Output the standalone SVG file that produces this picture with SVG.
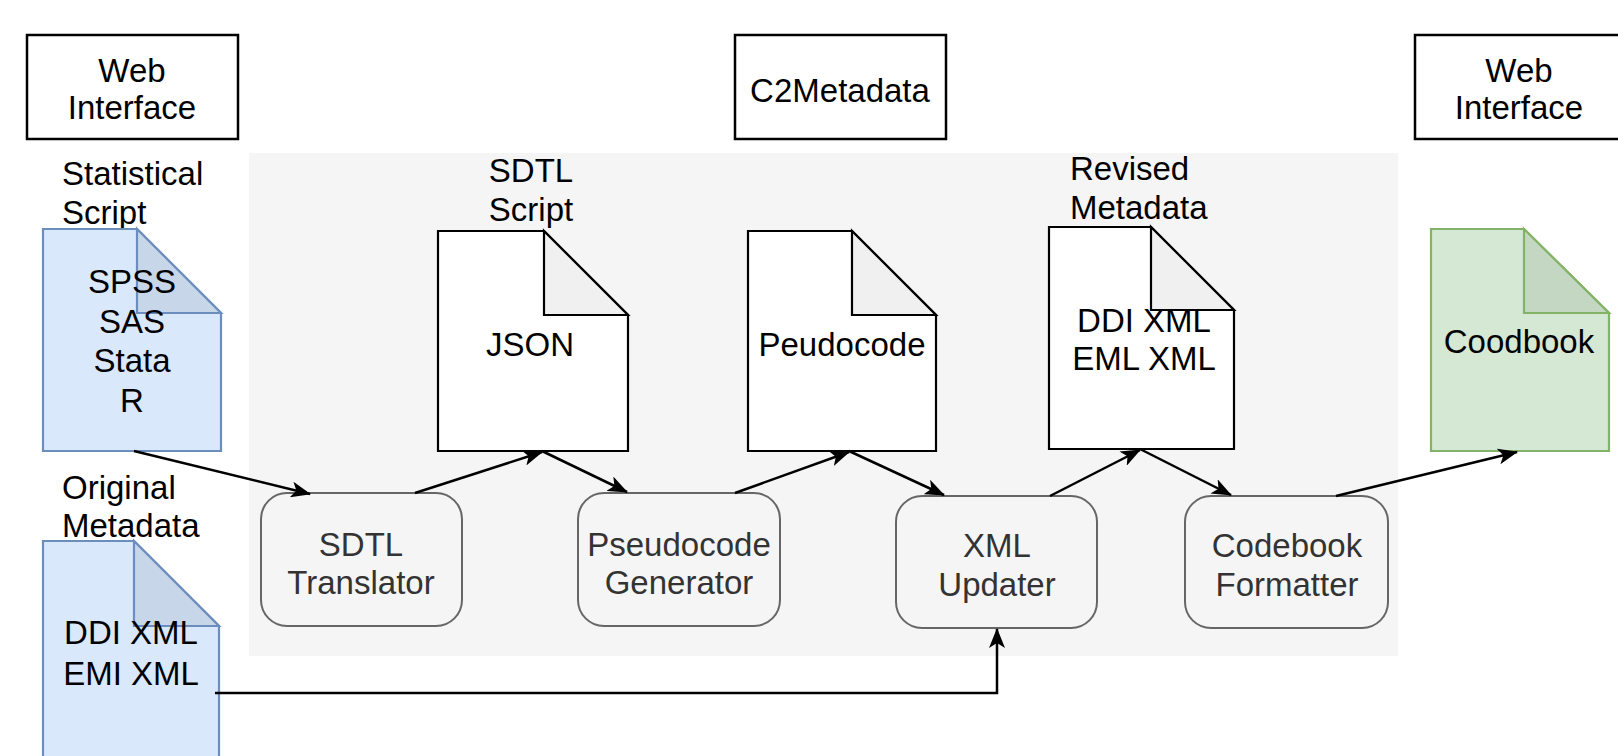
<svg xmlns="http://www.w3.org/2000/svg" width="1618" height="756" viewBox="0 0 1618 756">
<style>
text{font-family:"Liberation Sans",Arial,sans-serif;font-size:33px;fill:#000}
.c{text-anchor:middle}
.g{fill:#333}
.box{fill:#fff;stroke:#000;stroke-width:2.5}
.proc{fill:#f5f5f5;stroke:#666;stroke-width:2}
.doc{fill:#fff;stroke:#000;stroke-width:2.2}
.fold{fill:#f0f0f0;stroke:#000;stroke-width:2.2}
.bdoc{fill:#dae8fc;stroke:#6c8ebf;stroke-width:2.2}
.bfold{fill:#c8d6ea;stroke:#6c8ebf;stroke-width:2.2}
.gdoc{fill:#d5e8d4;stroke:#82b366;stroke-width:2.2}
.gfold{fill:#c3d7c2;stroke:#82b366;stroke-width:2.2}
.edge{fill:none;stroke:#000;stroke-width:2.5}
</style>
<defs>
<marker id="arr" viewBox="0 0 10 10" refX="9" refY="5" markerWidth="7" markerHeight="7" orient="auto" markerUnits="userSpaceOnUse">
<path d="M0,0 L10,5 L0,10 L2.5,5 Z" fill="#000"/>
</marker>
<marker id="arrow" viewBox="0 0 20 16" refX="19" refY="8" markerWidth="20" markerHeight="16" orient="auto" markerUnits="userSpaceOnUse">
<path d="M0,0 L20,8 L0,16 L5,8 Z" fill="#000"/>
</marker>
</defs>
<rect x="0" y="0" width="1618" height="756" fill="#fff"/>
<rect id="container" x="249" y="153" width="1149" height="503" fill="#f5f5f5"/>

<g id="web-left">
<rect class="box" x="27" y="35" width="211" height="104"/>
<text class="c" x="132" y="82">Web</text>
<text class="c" x="132" y="119">Interface</text>
</g>
<g id="c2metadata">
<rect class="box" x="735" y="35" width="211" height="104"/>
<text class="c" x="840" y="102">C2Metadata</text>
</g>
<g id="web-right">
<rect class="box" x="1415" y="35" width="211" height="104"/>
<text class="c" x="1519" y="82">Web</text>
<text class="c" x="1519" y="119">Interface</text>
</g>

<g id="statistical-script">
<text x="62" y="185">Statistical</text>
<text x="62" y="224">Script</text>
<path class="bdoc" d="M43,229 H137 L221,313 V451 H43 Z"/>
<path class="bfold" d="M137,229 V313 H221 Z"/>
<text class="c" x="132" y="293">SPSS</text>
<text class="c" x="132" y="333">SAS</text>
<text class="c" x="132" y="372">Stata</text>
<text class="c" x="132" y="412">R</text>
</g>

<g id="original-metadata">
<text x="62" y="499">Original</text>
<text x="62" y="537">Metadata</text>
<path class="bdoc" d="M43,541 H134 L219,626 V764 H43 Z"/>
<path class="bfold" d="M134,541 V626 H219 Z"/>
<text class="c" x="131" y="644">DDI XML</text>
<text class="c" x="131" y="685">EMI XML</text>
</g>

<g id="sdtl-script">
<text class="c" x="531" y="182">SDTL</text>
<text class="c" x="531" y="221">Script</text>
<path class="doc" d="M438,231 H544 L628,315 V451 H438 Z"/>
<path class="fold" d="M544,231 V315 H628 Z"/>
<text class="c" x="530" y="356">JSON</text>
</g>

<g id="pseudocode-doc">
<path class="doc" d="M748,231 H852 L936,315 V451 H748 Z"/>
<path class="fold" d="M852,231 V315 H936 Z"/>
<text class="c" x="842" y="356">Peudocode</text>
</g>

<g id="revised-metadata">
<text x="1070" y="180">Revised</text>
<text x="1070" y="219">Metadata</text>
<path class="doc" d="M1049,227 H1151 L1234,310 V449 H1049 Z"/>
<path class="fold" d="M1151,227 V310 H1234 Z"/>
<text class="c" x="1144" y="332">DDI XML</text>
<text class="c" x="1144" y="370">EML XML</text>
</g>

<g id="codebook-doc">
<path class="gdoc" d="M1431,229 H1524 L1609,313 V451 H1431 Z"/>
<path class="gfold" d="M1524,229 V313 H1609 Z"/>
<text class="c" x="1519" y="353">Coodbook</text>
</g>

<g id="sdtl-translator">
<rect class="proc" x="261" y="493" width="201" height="133" rx="26"/>
<text class="c g" x="361" y="556">SDTL</text>
<text class="c g" x="361" y="594">Translator</text>
</g>
<g id="pseudocode-generator">
<rect class="proc" x="578" y="493" width="202" height="133" rx="26"/>
<text class="c g" x="679" y="556">Pseudocode</text>
<text class="c g" x="679" y="594">Generator</text>
</g>
<g id="xml-updater">
<rect class="proc" x="896" y="496" width="201" height="132" rx="26"/>
<text class="c g" x="997" y="557">XML</text>
<text class="c g" x="997" y="596">Updater</text>
</g>
<g id="codebook-formatter">
<rect class="proc" x="1185" y="496" width="203" height="132" rx="26"/>
<text class="c g" x="1287" y="557">Codebook</text>
<text class="c g" x="1287" y="596">Formatter</text>
</g>

<g id="connectors">
<path class="edge" marker-end="url(#arrow)" d="M134,451 L310,494"/>
<path class="edge" marker-end="url(#arrow)" d="M415,493 L542,452"/>
<path class="edge" marker-end="url(#arrow)" d="M542,451 L627,492"/>
<path class="edge" marker-end="url(#arrow)" d="M735,493 L849,452"/>
<path class="edge" marker-end="url(#arrow)" d="M849,451 L944,495"/>
<path class="edge" marker-end="url(#arrow)" d="M1050,496 L1140,450"/>
<path class="edge" marker-end="url(#arrow)" d="M1140,449 L1231,495"/>
<path class="edge" marker-end="url(#arrow)" d="M1336,496 L1517,452"/>
<path class="edge" marker-end="url(#arrow)" d="M215,693 H997 V629"/>
</g>
</svg>
